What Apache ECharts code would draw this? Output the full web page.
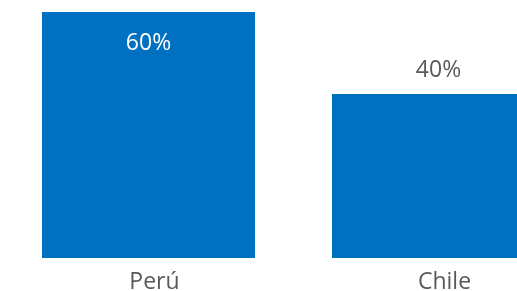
<!DOCTYPE html>
<html>
<head>
<meta charset="utf-8">
<script src="https://cdn.jsdelivr.net/npm/echarts@6/dist/echarts.min.js"></script>
<style>
  html, body { margin: 0; padding: 0; background: #fff; }
  #chart { width: 517px; height: 291px; }
</style>
</head>
<body>
<div id="chart"></div>
<script>
const categories = ['Perú', 'Chile'];
const values = [60, 40];

const chart = echarts.init(document.getElementById('chart'));

const option = {
  animation: false,
  grid: { left: 3.5, width: 580, top: 12, bottom: 33, containLabel: false, outerBoundsMode: 'none' },
  xAxis: {
    type: 'category',
    data: categories,
    axisLine: { show: false },
    axisTick: { show: false },
    axisLabel: {
      color: '#595959',
      fontFamily: 'Open Sans',
      fontSize: 23,
      margin: 13,
      padding: [0, 0, 0, 12]
    }
  },
  yAxis: {
    type: 'value',
    min: 0,
    max: 60,
    show: false
  },
  series: [
    {
      type: 'bar',
      data: values.map((v, i) => ({
        value: v,
        label: i === 0
          ? { position: 'insideTop', distance: 20, color: '#ffffff' }
          : { position: 'top', distance: 12, color: '#595959' }
      })),
      barWidth: 213,
      itemStyle: { color: '#0070C0' },
      label: {
        show: true,
        fontFamily: 'Open Sans',
        fontSize: 23,
        formatter: p => p.value + '%'
      }
    }
  ]
};

chart.setOption(option);
</script>
</body>
</html>
